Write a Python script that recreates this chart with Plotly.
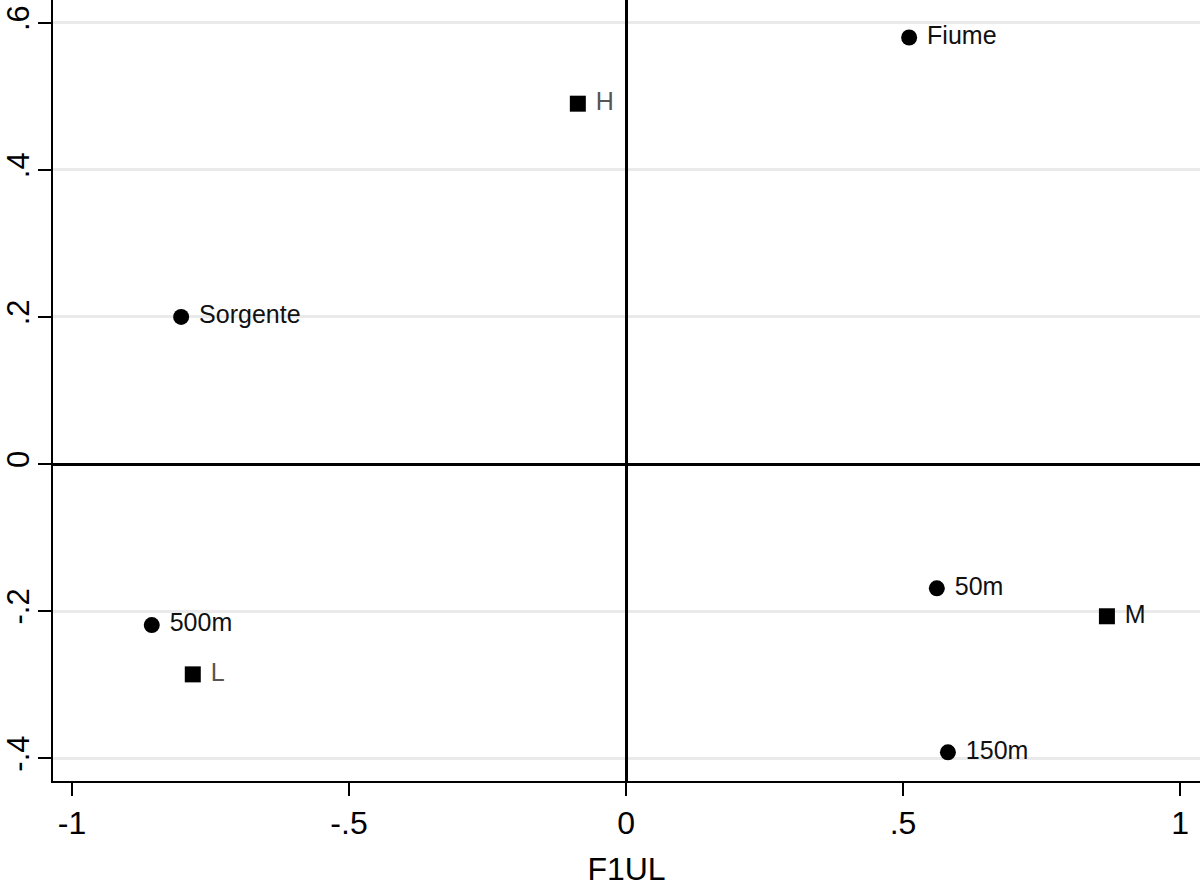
import plotly.graph_objects as go

site_labels = ["Fiume", "Sorgente", "50m", "500m", "150m"]
site_x = [0.511, -0.803, 0.561, -0.856, 0.581]
site_y = [0.580, 0.200, -0.169, -0.219, -0.392]

level_labels = ["H", "M", "L"]
level_x = [-0.087, 0.868, -0.782]
level_y = [0.490, -0.207, -0.286]

x_ticks = [-1, -0.5, 0, 0.5, 1]
x_tick_text = ["-1", "-.5", "0", ".5", "1"]
y_ticks = [-0.4, -0.2, 0, 0.2, 0.4, 0.6]
y_tick_text = ["-.4", "-.2", "0", ".2", ".4", ".6"]

font_family = "Liberation Sans, Arial, sans-serif"

fig = go.Figure()
fig.add_trace(go.Scatter(
    x=site_x, y=site_y, text=[" " + t for t in site_labels],
    mode="markers+text", textposition="middle right",
    marker=dict(symbol="circle", size=16, color="black"),
    textfont=dict(family=font_family, size=25, color="#111111"),
    cliponaxis=False, showlegend=False, hoverinfo="skip",
))
fig.add_trace(go.Scatter(
    x=level_x, y=level_y, text=[" " + t for t in level_labels],
    mode="markers+text", textposition="middle right",
    marker=dict(symbol="square", size=16, color="black"),
    textfont=dict(family=font_family, size=25, color=["#555555", "#111111", "#555555"]),
    cliponaxis=False, showlegend=False, hoverinfo="skip",
))

fig.update_layout(
    width=1200, height=887,
    margin=dict(l=53, r=0, t=0, b=106, autoexpand=False),
    paper_bgcolor="white", plot_bgcolor="white",
    font=dict(family=font_family, color="black"),
    xaxis=dict(
        range=[-1.0343, 1.036],
        tickvals=x_ticks, ticktext=x_tick_text,
        showgrid=False, automargin=False, ticklabeloverflow="allow",
        zeroline=True, zerolinecolor="black", zerolinewidth=3,
        showline=True, linecolor="black", linewidth=2,
        ticks="outside", ticklen=13, tickwidth=2, tickcolor="black",
        tickfont=dict(size=32, family=font_family),
        title=dict(text="F1UL", font=dict(size=32, family=font_family), standoff=18),
    ),
    yaxis=dict(
        range=[-0.431, 0.631],
        tickvals=y_ticks, ticktext=y_tick_text,
        tickangle=-90, automargin=False, ticklabeloverflow="allow",
        ticklabelstandoff=-3,
        showgrid=True, gridcolor="#eaeaea", gridwidth=3,
        zeroline=True, zerolinecolor="black", zerolinewidth=3,
        showline=True, linecolor="black", linewidth=2,
        ticks="outside", ticklen=13, tickwidth=2, tickcolor="black",
        tickfont=dict(size=31, family=font_family),
    ),
)

fig.write_html("out.html", config={"displayModeBar": False},
               post_script="document.body.style.margin='0';")
